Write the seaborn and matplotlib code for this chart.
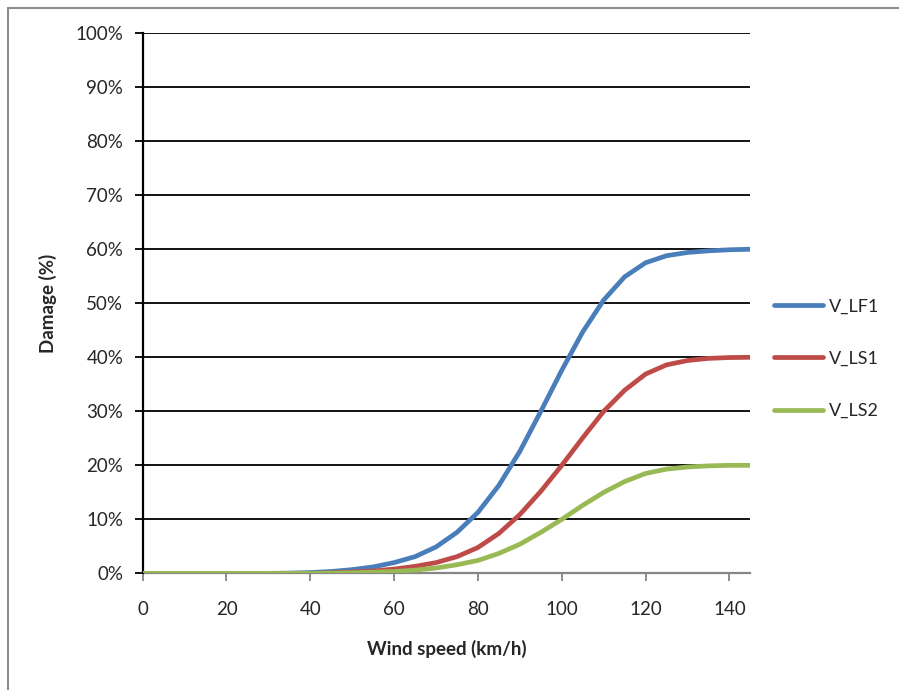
import matplotlib
matplotlib.use("Agg")
import matplotlib.pyplot as plt
from matplotlib.lines import Line2D
import seaborn as sns
import pandas as pd

wind_speed = [0, 5, 10, 15, 20, 25, 30, 35, 40, 45, 50, 55, 60, 65, 70, 75,
              80, 85, 90, 95, 100, 105, 110, 115, 120, 125, 130, 135, 140, 145]
v_lf1 = [0, 0, 0, 0, 0, 0, 0, 0.05, 0.15, 0.35, 0.7, 1.2, 2.0, 3.1, 4.9, 7.6,
         11.3, 16.3, 22.6, 30.0, 37.6, 44.7, 50.6, 54.9, 57.5, 58.8, 59.4, 59.7, 59.9, 60.0]
v_ls1 = [0, 0, 0, 0, 0, 0, 0, 0, 0, 0.1, 0.25, 0.45, 0.8, 1.3, 2.0, 3.1,
         4.8, 7.4, 10.9, 15.2, 20.0, 25.1, 30.0, 33.9, 36.9, 38.6, 39.4, 39.8, 39.95, 40.0]
v_ls2 = [0, 0, 0, 0, 0, 0, 0, 0, 0, 0.05, 0.12, 0.22, 0.35, 0.6, 1.0, 1.6,
         2.4, 3.7, 5.4, 7.6, 10.0, 12.6, 15.0, 17.0, 18.5, 19.3, 19.7, 19.9, 20.0, 20.0]
series_names = ["V_LF1", "V_LS1", "V_LS2"]
series_colors = ["#4A7EBB", "#BE4B48", "#98B954"]
y_ticks = [0, 10, 20, 30, 40, 50, 60, 70, 80, 90, 100]
x_ticks = [0, 20, 40, 60, 80, 100, 120, 140]

sns.set_theme(style="white")
plt.rcParams['font.family'] = ['Lato', 'DejaVu Sans']

df = pd.DataFrame({"Wind speed": wind_speed, series_names[0]: v_lf1,
                   series_names[1]: v_ls1, series_names[2]: v_ls2})
long = df.melt(id_vars="Wind speed", var_name="Series", value_name="Damage")

fig = plt.figure(figsize=(8.99, 6.90), dpi=100)
ax = fig.add_axes([0.1587, 0.169, 0.676, 0.783])

for y in y_ticks[1:]:
    ax.axhline(y, color="black", lw=1.3, zorder=1)

sns.lineplot(data=long, x="Wind speed", y="Damage", hue="Series",
             palette=dict(zip(series_names, series_colors)), lw=3.4,
             ax=ax, legend=False, zorder=3)
for ln in ax.get_lines():
    ln.set_solid_capstyle("round")
    ln.set_solid_joinstyle("round")

ax.set_xlim(0, 145)
ax.set_ylim(0, 100)
ax.set_xticks(x_ticks)
ax.set_yticks(y_ticks)
ax.set_yticklabels([f"{t}%" for t in y_ticks])
for s in ["top", "right"]:
    ax.spines[s].set_visible(False)
ax.spines["left"].set_color("black")
ax.spines["left"].set_linewidth(1.6)
ax.spines["bottom"].set_color("#868686")
ax.spines["bottom"].set_linewidth(1.6)
ax.spines["bottom"].set_zorder(2)
ax.tick_params(axis="y", direction="out", length=6, width=1.3, color="black",
               labelsize=13.5, pad=8, left=True)
ax.tick_params(axis="x", direction="out", length=6, width=1.3, color="#868686",
               labelsize=13.5, pad=14, bottom=True)
ax.set_xlabel("Wind speed (km/h)", fontsize=13.5, fontweight="bold", labelpad=16)
ax.set_ylabel("Damage (%)", fontsize=13.5, fontweight="bold", labelpad=13)

handles = [Line2D([0], [0], color=c, lw=3.4, solid_capstyle="round") for c in series_colors]
fig.legend(handles, series_names, loc="center left", bbox_to_anchor=(0.861, 0.480),
           frameon=False, fontsize=13, handlelength=2.7, handletextpad=0.35,
           labelspacing=2.0, borderaxespad=0, borderpad=0)

fig.add_artist(Line2D([8 / 899, 1.0], [1 - 7.5 / 690, 1 - 7.5 / 690],
                      transform=fig.transFigure, color="#8C8C8C", lw=1.5))
fig.add_artist(Line2D([8 / 899, 8 / 899], [0, 1 - 7.5 / 690],
                      transform=fig.transFigure, color="#8C8C8C", lw=1.5))

fig.savefig("out.png", dpi=100, facecolor="white")
